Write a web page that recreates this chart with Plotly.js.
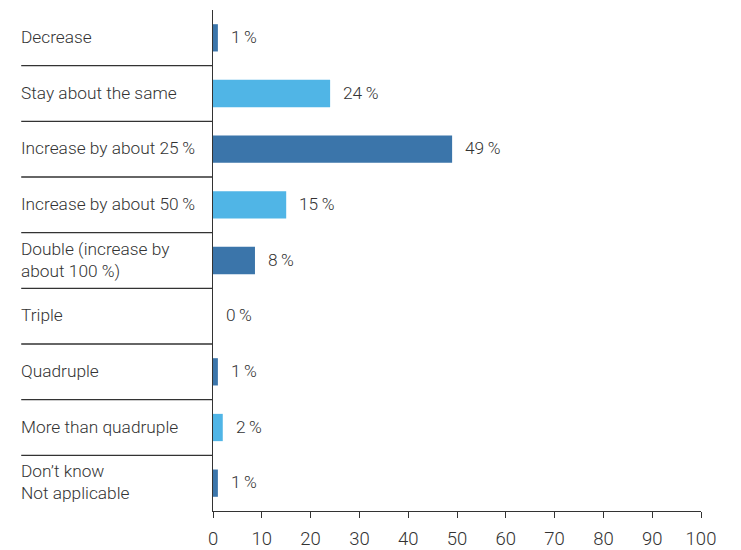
<!DOCTYPE html>
<html><head><meta charset="utf-8">
<script src="https://cdn.plot.ly/plotly-3.0.1.min.js"></script>
<style>html,body{margin:0;padding:0;background:#fff;}</style>
</head><body>
<div id="chart" style="width:741px;height:550px;"></div>
<script>
const categories = ["Decrease","Stay about the same","Increase by about 25\u2009%","Increase by about 50\u2009%","Double (increase by<br>about 100 %)","Triple","Quadruple","More than quadruple","Don’t know<br>Not applicable"];
const values = [1,24,49,15,8.6,0,1,2,1];
const valueLabels = ["1\u2009%","24\u2009%","49\u2009%","15\u2009%","8\u2009%","0\u2009%","1\u2009%","2\u2009%","1\u2009%"];
const xTicks = [0,10,20,30,40,50,60,70,80,90,100];
const dark = "#3b75aa", light = "#50b5e6";
const colors = [dark, light, dark, light, dark, dark, dark, light, dark];

const ids = categories.map((c,i)=>i);
const fontFam = "Roboto, 'Liberation Sans', sans-serif";
const txtColor = "#333333";
const tf = {family:fontFam, size:17.3, color:txtColor, weight:300};

const trace = {
  type: "bar", orientation: "h",
  x: values, y: ids,
  marker: {color: colors, line: {width: 0}},
  width: 0.49,
  hoverinfo: "none"
};

const annotations = [];
categories.forEach((c,i)=>{
  annotations.push({xref:"paper", yref:"y", x:-0.393, y:i, text:c, showarrow:false,
    xanchor:"left", yanchor:"middle", align:"left", xshift:-2, yshift:1,
    font:tf});
  annotations.push({xref:"x", yref:"y", x:values[i], y:i, text:valueLabels[i], showarrow:false,
    xanchor:"left", yanchor:"middle", xshift:11, yshift:1,
    font:tf});
});

const shapes = [];
for (let i=0;i<categories.length-1;i++){
  shapes.push({type:"line", xref:"paper", yref:"y", x0:-0.393, x1:0, y0:i+0.5, y1:i+0.5,
    line:{color:"#333", width:1.3}});
}

const layout = {
  width:741, height:550,
  margin:{l:213, r:40, t:10, b:39},
  paper_bgcolor:"#fff", plot_bgcolor:"#fff",
  showlegend:false,
  bargap:0.51,
  xaxis:{range:[0,100], tickvals:xTicks, ticktext:xTicks.map(String), ticks:"outside", ticklen:6,
    tickcolor:"#333", showline:true, linecolor:"#333", linewidth:1.3, showgrid:false, zeroline:false,
    ticklabelstandoff:4,
    tickfont:{family:fontFam, size:18.5, color:txtColor, weight:300}, fixedrange:true},
  yaxis:{range:[8.5,-0.5], showticklabels:false, ticks:"", showline:true, linecolor:"#333", linewidth:1.3,
    showgrid:false, zeroline:false, fixedrange:true},
  annotations: annotations,
  shapes: shapes,
  font:{family:fontFam}
};
Plotly.newPlot("chart", [trace], layout, {displayModeBar:false, staticPlot:true});
</script>
</body></html>
